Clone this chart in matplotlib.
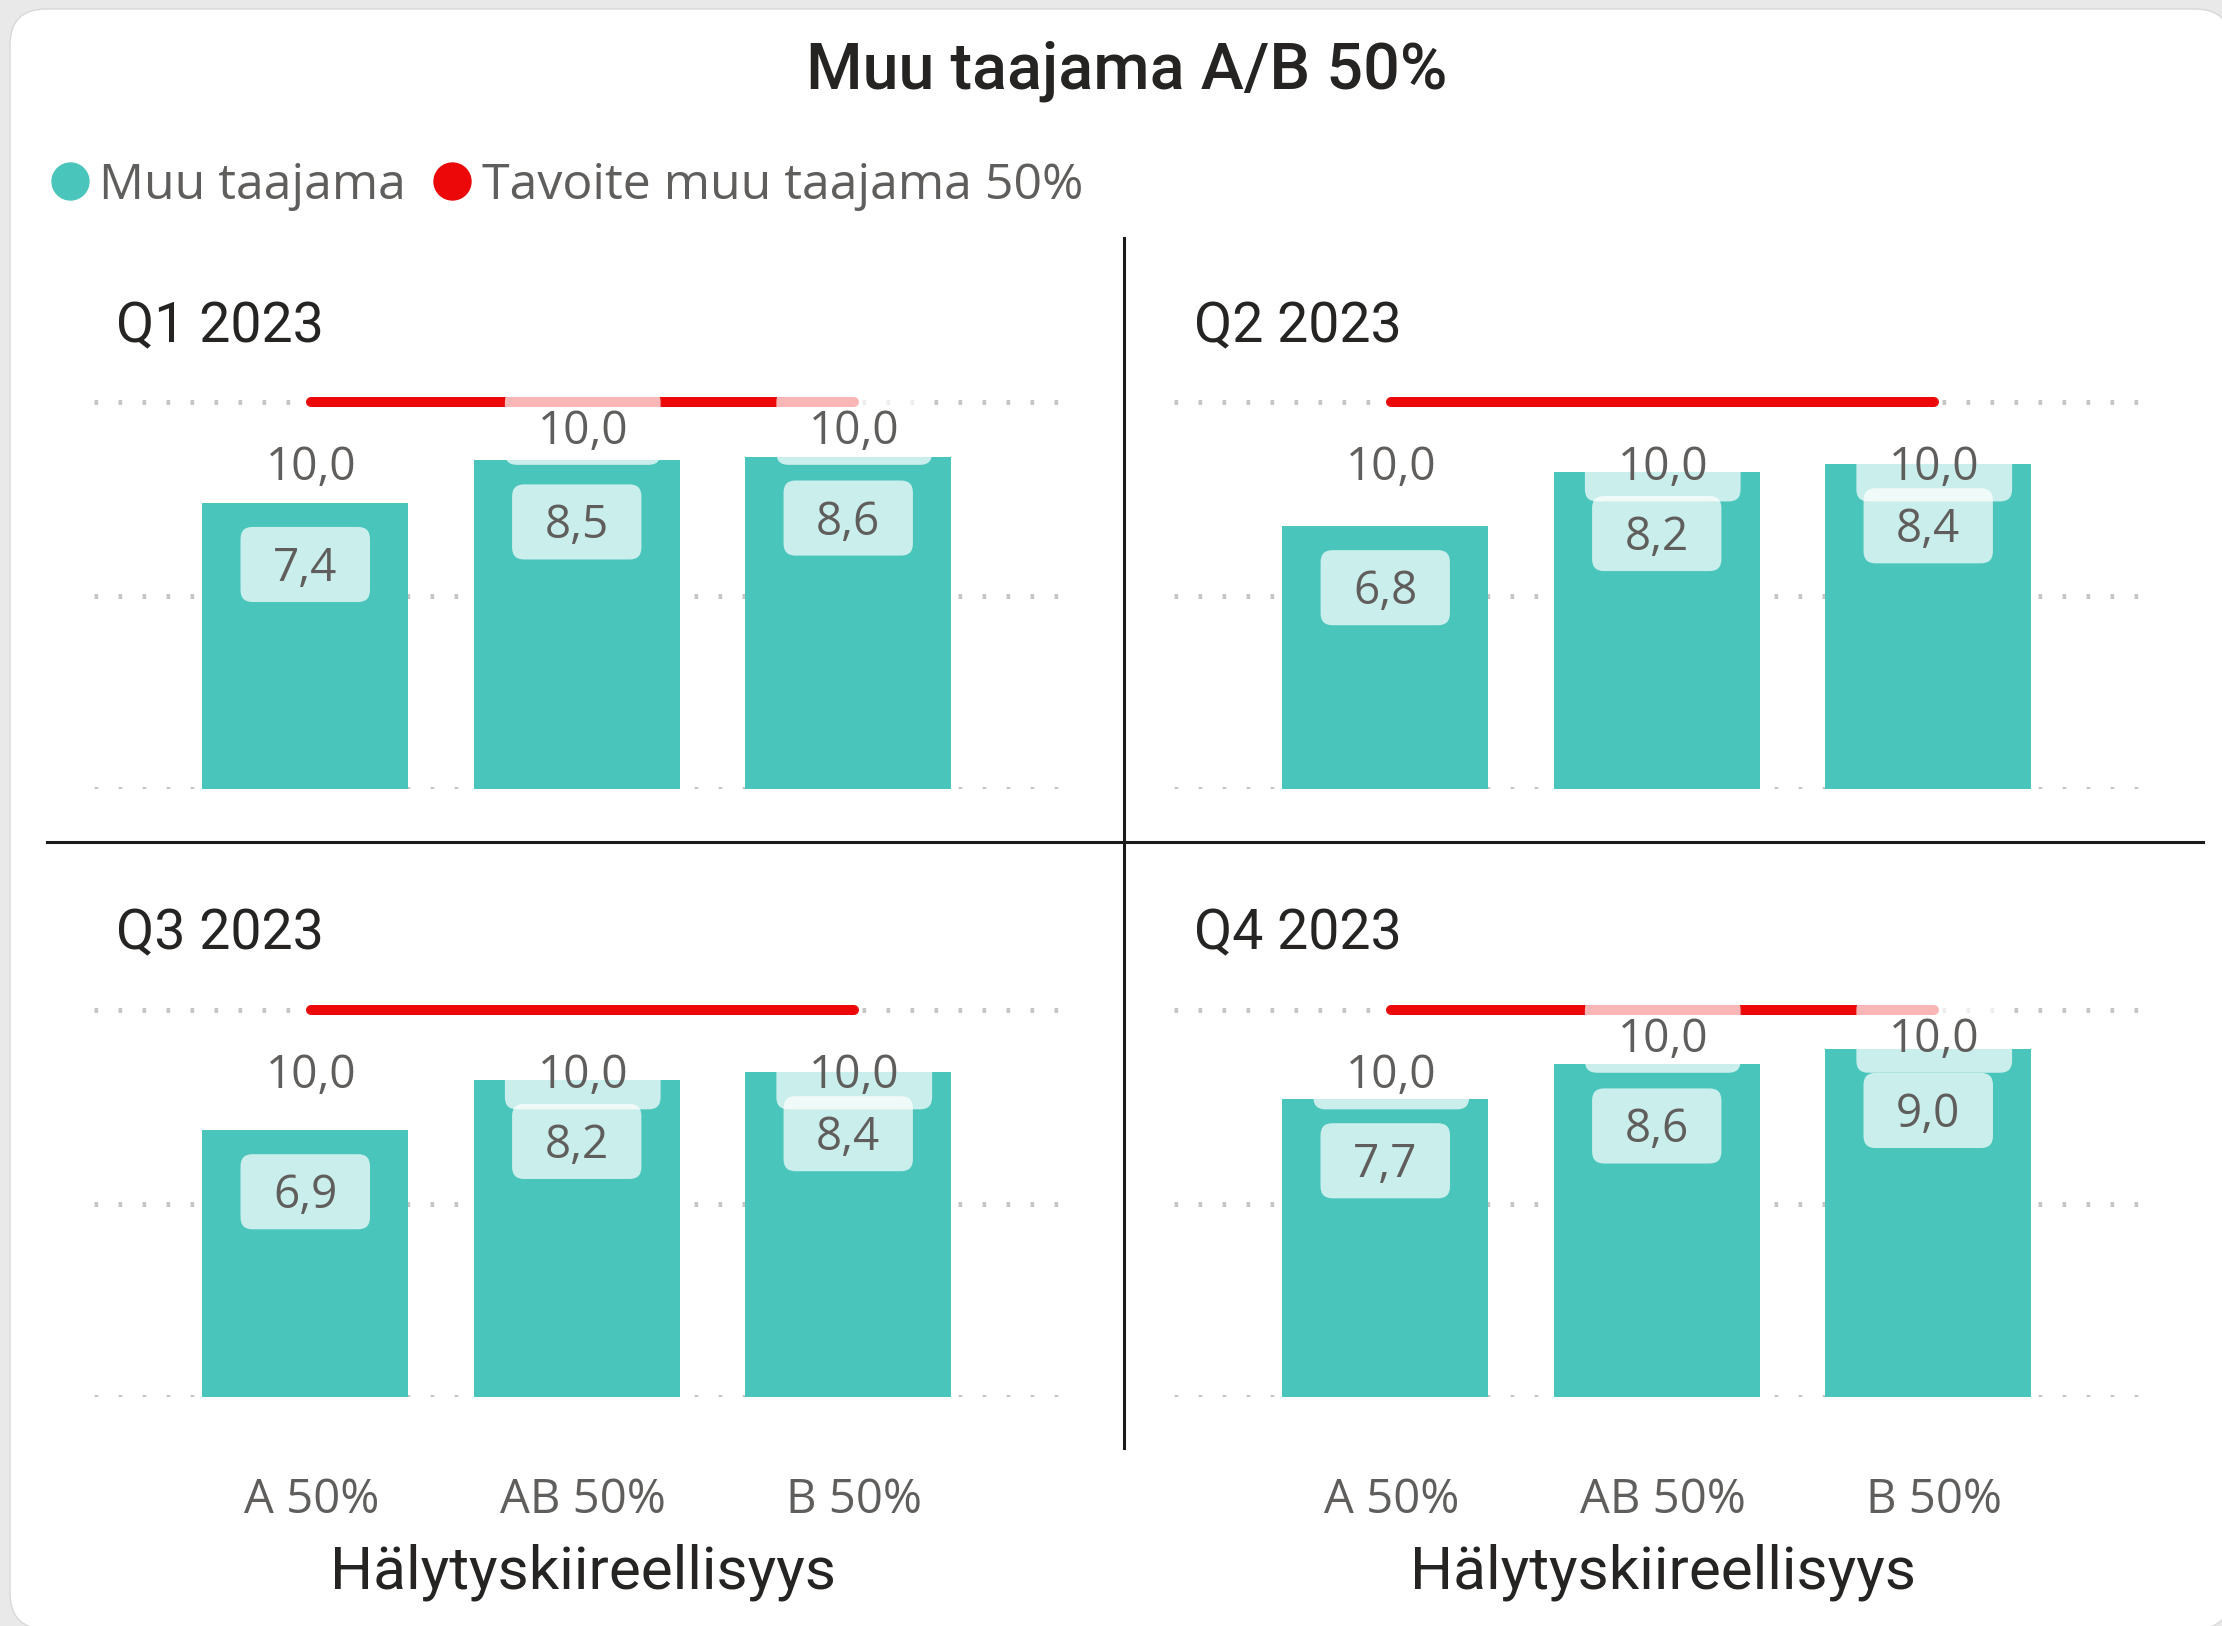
import matplotlib
matplotlib.use("Agg")
import matplotlib.pyplot as plt
from matplotlib.lines import Line2D
from matplotlib.patches import FancyBboxPatch, BoxStyle
from matplotlib.transforms import IdentityTransform, ScaledTranslation

# ---------------------------------------------------------------------------
# Data
# ---------------------------------------------------------------------------
categories = ["A 50%", "AB 50%", "B 50%"]
quarters = ["Q1 2023", "Q2 2023", "Q3 2023", "Q4 2023"]
q1_values = [7.4, 8.5, 8.6]
q2_values = [6.8, 8.2, 8.4]
q3_values = [6.9, 8.2, 8.4]
q4_values = [7.7, 8.6, 9.0]
target_values = [10.0, 10.0, 10.0]

title = "Muu taajama A/B 50%"
series_label = "Muu taajama"
target_label = "Tavoite muu taajama 50%"
x_title = "Hälytyskiireellisyys"

# ---------------------------------------------------------------------------
# Style / layout (pixels of the 2222x1626 output)
# ---------------------------------------------------------------------------
W, H = 2222, 1626
TEAL = "#4AC5BB"
RED = "#EC0808"
GREY_TEXT = "#605E5C"
DARK_TEXT = "#252423"
GRID = "#C8C6C4"

LABEL_FS = 33          # data labels (pt)
EM_PX = LABEL_FS * 100 / 72
LABEL_GAP = 61.6       # px from bar top / line down to label centre
LIFTED_GAP = 25.0      # px below the line when the label is pushed up
BOX_H = 75.0           # label box height, px
SHIFT_PX = 6           # line series + category texts sit a little right of the bars

plt.rcParams["font.family"] = ["Open Sans", "DejaVu Sans"]

fig = plt.figure(figsize=(W / 100, H / 100), dpi=100, facecolor="#E9E9E9")

# white card with rounded corners
card = FancyBboxPatch((10, -3), 2221, 1620, boxstyle="round,pad=0,rounding_size=36",
                      transform=IdentityTransform(), facecolor="white",
                      edgecolor="#D8D8D8", linewidth=1, zorder=-5)
fig.add_artist(card)

shift = ScaledTranslation(SHIFT_PX / 100, 0, fig.dpi_scale_trans)


def label_box(x0, y0, width, height, mutation_size):
    # wider sideways padding, like the Power BI label background
    return BoxStyle.Round(pad=0, rounding_size=0.26)(
        x0 - 0.71 * mutation_size, y0 - 0.22 * mutation_size,
        width + 1.42 * mutation_size, height + 0.635 * mutation_size, mutation_size)


def fmt(v):
    return f"{v:.1f}".replace(".", ",")


def put_label(ax, x, y, text, gap_px, dx_px=0):
    dy = -(gap_px + 0.357 * EM_PX) * 0.72
    ax.annotate(text, xy=(x, y), xytext=(dx_px * 0.72, dy), textcoords="offset points",
                ha="center", va="baseline", fontsize=LABEL_FS, color=GREY_TEXT,
                zorder=5,
                bbox=dict(boxstyle=label_box, facecolor="white", alpha=0.71,
                          edgecolor="none"))


AX_LEFT = [93.5, 1173.5]
AX_ZERO_Y = [789.3, 1397.2]
AX_W = 966.5
PPU = 38.69
YMAX = 11.0
TITLE_X = [116, 1194]
TITLE_BASE = [342, 949]

panel_values = [q1_values, q2_values, q3_values, q4_values]
x = list(range(len(categories)))

for k, vals in enumerate(panel_values):
    r, c = divmod(k, 2)
    ax = fig.add_axes([AX_LEFT[c] / W, 1 - AX_ZERO_Y[r] / H, AX_W / W, YMAX * PPU / H])
    ax.set_facecolor("none")
    ax.bar(x, vals, width=0.76, color=TEAL, zorder=2)
    ax.plot(x, target_values, color=RED, linewidth=7.2, solid_capstyle="round",
            zorder=3, transform=ax.transData + shift)
    ax.set_xlim(-0.78, 2.78)
    ax.set_ylim(0, YMAX)
    ax.set_yticks([0, 5, 10])
    ax.grid(axis="y", color=GRID, linewidth=3.6, linestyle=(0, (0.74, 4.06)))
    ax.set_axisbelow(True)
    for s in ax.spines.values():
        s.set_visible(False)
    ax.tick_params(left=False, labelleft=False, length=0)

    ppu = ax.transData.transform((0, 1))[1] - ax.transData.transform((0, 0))[1]
    for i, (v, t) in enumerate(zip(vals, target_values)):
        put_label(ax, i, v, fmt(v), LABEL_GAP)
        overlap = (v - t) * ppu + BOX_H
        gap = LIFTED_GAP if overlap > 15 else LABEL_GAP
        put_label(ax, i, t, fmt(t), gap, SHIFT_PX)

    if r == 1:
        ax.set_xticks(x, categories)
        ax.tick_params(axis="x", pad=57, labelsize=34, labelcolor=GREY_TEXT)
        for lbl in ax.get_xticklabels():
            lbl.set_transform(lbl.get_transform() + shift)
        ax.annotate(x_title, xy=(1, 0), xycoords=("data", "axes fraction"),
                    xytext=(SHIFT_PX * 0.72, -191 * 0.72), textcoords="offset points",
                    ha="center", va="baseline", fontsize=43.5, family="Roboto",
                    color=DARK_TEXT)
    else:
        ax.tick_params(axis="x", labelbottom=False)

    fig.text(TITLE_X[c] / W, 1 - TITLE_BASE[r] / H, quarters[k], ha="left",
             va="baseline", fontsize=40, family="Roboto", weight="normal",
             color=DARK_TEXT)

# quadrant dividers
fig.add_artist(Line2D([47 / W, 2203 / W], [1 - 841.7 / H] * 2, color="#1B1B1B",
                      linewidth=2.2))
fig.add_artist(Line2D([1123.7 / W] * 2, [1 - 238 / H, 1 - 1448 / H], color="#1B1B1B",
                      linewidth=2.2))

# title and legend
fig.text(1127 / W, 1 - 88 / H, title, ha="center", va="baseline", fontsize=46.5,
         family="Roboto", weight="medium", color=DARK_TEXT)

handles = [Line2D([], [], marker="o", linestyle="none", markersize=26.6, color=TEAL),
           Line2D([], [], marker="o", linestyle="none", markersize=26.6, color=RED)]
fig.legend(handles, [series_label, target_label], loc="center left",
           bbox_to_anchor=(51 / W, 1 - 186 / H), ncol=2, frameon=False, fontsize=36,
           handlelength=0.74, handletextpad=0.22, columnspacing=0.56, borderpad=0,
           borderaxespad=0, labelcolor=GREY_TEXT)

fig.savefig("out.png", dpi=100, facecolor=fig.get_facecolor())
